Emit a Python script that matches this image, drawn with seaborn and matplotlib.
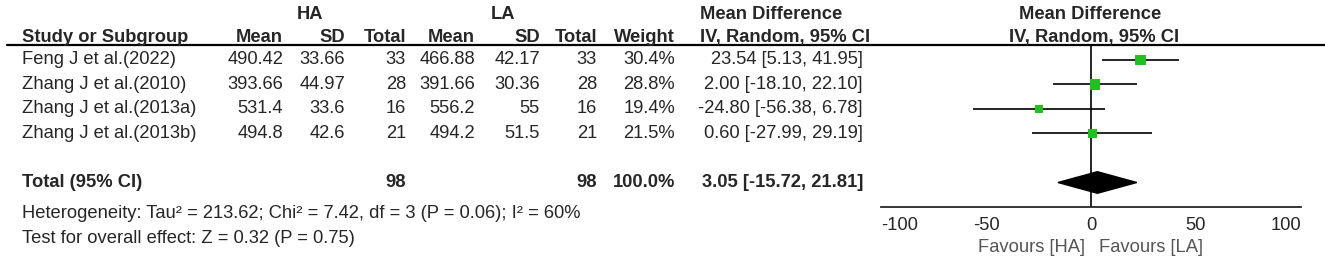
import matplotlib
matplotlib.use("Agg")
import matplotlib.pyplot as plt
import matplotlib.transforms as mtransforms
import seaborn as sns
import pandas as pd
import numpy as np

# ---------------------------------------------------------------------
# Data
# ---------------------------------------------------------------------
studies = ["Feng J et al.(2022)", "Zhang J et al.(2010)",
           "Zhang J et al.(2013a)", "Zhang J et al.(2013b)"]
ha_mean = ["490.42", "393.66", "531.4", "494.8"]
ha_sd = ["33.66", "44.97", "33.6", "42.6"]
ha_total = [33, 28, 16, 21]
la_mean = ["466.88", "391.66", "556.2", "494.2"]
la_sd = ["42.17", "30.36", "55", "51.5"]
la_total = [33, 28, 16, 21]
weight = [30.4, 28.8, 19.4, 21.5]
md = [23.54, 2.00, -24.80, 0.60]
ci_low = [5.13, -18.10, -56.38, -27.99]
ci_high = [41.95, 22.10, 6.78, 29.19]

total_ha, total_la = 98, 98
total_md, total_low, total_high = 3.05, -15.72, 21.81
heterogeneity = "Heterogeneity: Tau² = 213.62; Chi² = 7.42, df = 3 (P = 0.06); I² = 60%"
overall = "Test for overall effect: Z = 0.32 (P = 0.75)"
xticks = [-100, -50, 0, 50, 100]

df = pd.DataFrame({"study": studies, "row": np.arange(len(studies)),
                   "md": md, "lo": ci_low, "hi": ci_high, "w": weight})
TOTAL_ROW = len(studies) + 1

# ---------------------------------------------------------------------
# Figure
# ---------------------------------------------------------------------
sns.set_style("white")
plt.rcParams["font.family"] = ["Liberation Sans", "DejaVu Sans"]
W, H = 1325, 266
FS = 13.2
fig = plt.figure(figsize=(W / 100, H / 100), dpi=100)

ax = fig.add_axes([881 / W, 1 - 207 / H, 420 / W, (207 - 46) / H])
ax.set_xlim(-100, 100)
ax.set_ylim(6.0, -0.57)

GREEN = "#22bf22"
ax.axvline(0, color="black", lw=1.2, zorder=1)
ax.hlines(df["row"], df["lo"], df["hi"], color="black", lw=1.2, zorder=2)
sns.scatterplot(data=df, x="md", y="row", size="w", sizes=(38, 58),
                size_norm=(19.4, 30.4), marker="s", color=GREEN,
                edgecolor="none", legend=False, ax=ax, zorder=3)
ax.fill([total_low, total_md, total_high, total_md],
        [TOTAL_ROW, TOTAL_ROW - 0.44, TOTAL_ROW, TOTAL_ROW + 0.44],
        color="black", zorder=3)

for s in ["top", "left", "right"]:
    ax.spines[s].set_visible(False)
ax.spines["bottom"].set_linewidth(1.3)
ax.set_yticks([])
ax.set_xticks(xticks)
ax.set_xticklabels([str(t) for t in xticks], fontsize=FS)
labels = ax.get_xticklabels()
labels[0].set_horizontalalignment("left")
labels[-1].set_horizontalalignment("right")
ax.tick_params(axis="x", direction="inout", length=11, width=1.3, pad=2)
ax.set_xlabel("")
ax.set_ylabel("")
ax.patch.set_alpha(0)

# blended: x in figure pixels (fraction), y in forest rows
tr = mtransforms.blended_transform_factory(fig.transFigure, ax.transData)
trf = mtransforms.blended_transform_factory(ax.transData, fig.transFigure)


def put(xpx, row, s, ha="right", bold=False):
    fig.text(xpx / W, row, s, transform=tr, ha=ha, va="center",
             fontsize=FS, fontweight="bold" if bold else "normal")


# headers
R1, R2 = -1.87, -0.92
put(310, R1, "HA", ha="center", bold=True)
put(503, R1, "LA", ha="center", bold=True)
put(700, R1, "Mean Difference", ha="left", bold=True)
put(1090, R1, "Mean Difference", ha="center", bold=True)
put(22, R2, "Study or Subgroup", ha="left", bold=True)
for xp, lab in [(283, "Mean"), (345, "SD"), (406, "Total"), (475, "Mean"),
                (540, "SD"), (597, "Total"), (675, "Weight")]:
    put(xp, R2, lab, bold=True)
put(700, R2, "IV, Random, 95% CI", ha="left", bold=True)
put(1094, R2, "IV, Random, 95% CI", ha="center", bold=True)

# header rule
fig.add_artist(plt.Line2D([7 / W, 1], [1 - 45 / H, 1 - 45 / H],
                          transform=fig.transFigure, color="black", lw=1.6))

# study rows
for i in range(len(studies)):
    put(22, i, studies[i], ha="left")
    put(283, i, ha_mean[i])
    put(345, i, ha_sd[i])
    put(406, i, str(ha_total[i]))
    put(475, i, la_mean[i])
    put(540, i, la_sd[i])
    put(597, i, str(la_total[i]))
    put(675, i, f"{weight[i]:.1f}%")
    put(863, i, f"{md[i]:.2f} [{ci_low[i]:.2f}, {ci_high[i]:.2f}]")

# total row
put(22, TOTAL_ROW, "Total (95% CI)", ha="left", bold=True)
put(406, TOTAL_ROW, str(total_ha), bold=True)
put(597, TOTAL_ROW, str(total_la), bold=True)
put(675, TOTAL_ROW, "100.0%", bold=True)
put(863, TOTAL_ROW, f"{total_md:.2f} [{total_low:.2f}, {total_high:.2f}]", bold=True)

put(22, 6.27, heterogeneity, ha="left")
put(22, 7.29, overall, ha="left")

# favours labels
ax.text(-3, 1 - 248 / H, "Favours [HA]", transform=trf, ha="right",
        va="center", fontsize=FS, color="#555555")
ax.text(4, 1 - 248 / H, "Favours [LA]", transform=trf, ha="left",
        va="center", fontsize=FS, color="#555555")

fig.savefig("out.png", dpi=100)
